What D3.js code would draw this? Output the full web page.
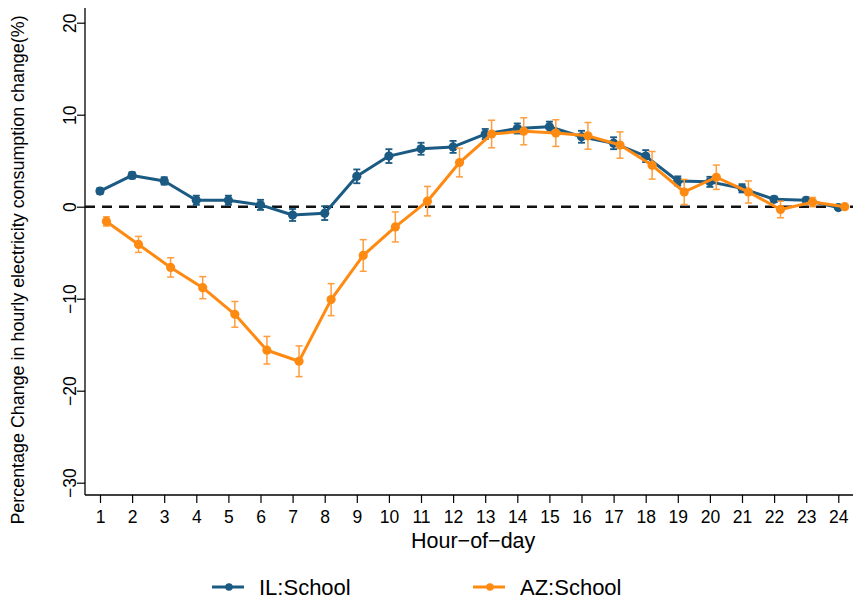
<!DOCTYPE html>
<html>
<head>
<meta charset="utf-8">
<script src="https://cdn.jsdelivr.net/npm/d3@7"></script>
<style>
  html, body { margin: 0; padding: 0; background: #fff; }
  svg { display: block; font-family: "Liberation Sans", Arial, Helvetica, sans-serif; }
</style>
</head>
<body>
<svg id="chart" width="854" height="599"></svg>
<script>
// ---- data ----
const hours = [1,2,3,4,5,6,7,8,9,10,11,12,13,14,15,16,17,18,19,20,21,22,23,24];
const ilValues = [1.7, 3.4, 2.8, 0.7, 0.7, 0.2, -0.9, -0.7, 3.3, 5.5, 6.3, 6.5, 7.9, 8.5, 8.7, 7.6, 6.9, 5.5, 2.8, 2.7, 2.0, 0.8, 0.7, -0.1];
const ilErrors = [0.3, 0.35, 0.4, 0.5, 0.5, 0.55, 0.65, 0.75, 0.75, 0.75, 0.65, 0.65, 0.55, 0.55, 0.55, 0.65, 0.65, 0.65, 0.5, 0.55, 0.45, 0.3, 0.3, 0.0];
const azValues = [-1.6, -4.1, -6.6, -8.8, -11.7, -15.6, -16.8, -10.1, -5.3, -2.2, 0.6, 4.8, 7.9, 8.2, 8.0, 7.7, 6.7, 4.5, 1.6, 3.2, 1.6, -0.3, 0.5, 0.0];
const azErrors = [0.5, 0.87, 1.05, 1.2, 1.4, 1.5, 1.67, 1.74, 1.72, 1.63, 1.6, 1.56, 1.5, 1.47, 1.45, 1.45, 1.43, 1.5, 1.36, 1.32, 1.2, 0.9, 0.5, 0.0];
const yTicks = [-30, -20, -10, 0, 10, 20];
const seriesNames = ["IL:School", "AZ:School"];
const xTitle = "Hour\u2212of\u2212day";
const yTitle = "Percentage Change in hourly electricity consumption change(%)";

// ---- layout ----
const svg = d3.select("#chart");
const blue = "#1b5a82", orange = "#ff8a12", orangeBar = "#ff9d3c";
const azOffset = 0.2;

const x = d3.scaleLinear().domain([1, 24]).range([100, 838.3]);
const y = d3.scaleLinear().domain([-30, 20]).range([482.7, 22.7]);
const axisLeftX = 85, axisBottomY = 495, plotRight = 853, plotTop = 8;

// axes
const yAxis = svg.append("g").attr("transform", `translate(${axisLeftX},0)`)
  .call(d3.axisLeft(y).tickValues(yTicks).tickSize(8).tickPadding(10));
yAxis.select(".domain").remove();
yAxis.append("line").attr("x1", 0).attr("x2", 0).attr("y1", plotTop).attr("y2", axisBottomY)
  .attr("stroke", "#000").attr("stroke-width", 1.3);
yAxis.selectAll(".tick line").attr("stroke", "#000").attr("stroke-width", 1.2);
yAxis.selectAll(".tick text")
  .attr("font-size", 17.5).attr("fill", "#000")
  .attr("text-anchor", "middle").attr("dy", null)
  .attr("x", null)
  .attr("transform", "translate(-15,0) rotate(-90)")
  .attr("dominant-baseline", "central");

const xAxis = svg.append("g").attr("transform", `translate(0,${axisBottomY})`)
  .call(d3.axisBottom(x).tickValues(hours).tickFormat(d3.format("d")).tickSize(8).tickPadding(8));
xAxis.select(".domain").remove();
xAxis.append("line").attr("x1", axisLeftX).attr("x2", plotRight).attr("y1", 0).attr("y2", 0)
  .attr("stroke", "#000").attr("stroke-width", 1.3);
xAxis.selectAll(".tick line").attr("stroke", "#000").attr("stroke-width", 1.2);
xAxis.selectAll(".tick text").attr("font-size", 17.5).attr("fill", "#000");

// titles
svg.append("text").attr("x", (x(1) + x(24)) / 2 + 4).attr("y", 548)
  .attr("text-anchor", "middle").attr("font-size", 21.5).attr("fill", "#000").text(xTitle);
svg.append("text").attr("transform", `translate(24,270) rotate(-90)`)
  .attr("text-anchor", "middle").attr("font-size", 17.9).attr("fill", "#000").text(yTitle);

// zero reference line
svg.append("line").attr("x1", axisLeftX).attr("x2", plotRight).attr("y1", y(0)).attr("y2", y(0))
  .attr("stroke", "#111").attr("stroke-width", 2.4).attr("stroke-dasharray", "10,7");

// series
function drawSeries(values, errors, offset, barColor, barWidth) {
  const pts = hours.map((h, i) => ({ h: h + offset, v: values[i], e: errors[i] }));
  const g = svg.append("g");
  const eb = g.append("g").attr("stroke", barColor).attr("stroke-width", barWidth).attr("fill", "none");
  pts.filter(d => d.e > 0).forEach(d => {
    const cx = x(d.h), y1 = y(d.v + d.e), y2 = y(d.v - d.e);
    eb.append("line").attr("x1", cx).attr("x2", cx).attr("y1", y1).attr("y2", y2);
    eb.append("line").attr("x1", cx - 3.5).attr("x2", cx + 3.5).attr("y1", y1).attr("y2", y1);
    eb.append("line").attr("x1", cx - 3.5).attr("x2", cx + 3.5).attr("y1", y2).attr("y2", y2);
  });
  return { g, pts };
}
function drawLine(s, color) {
  s.g.append("path").datum(s.pts)
    .attr("d", d3.line().x(d => x(d.h)).y(d => y(d.v)))
    .attr("fill", "none").attr("stroke", color).attr("stroke-width", 3).attr("stroke-linejoin", "round");
  s.g.selectAll("circle").data(s.pts).join("circle")
    .attr("cx", d => x(d.h)).attr("cy", d => y(d.v)).attr("r", 4.6).attr("fill", color);
}
const il = drawSeries(ilValues, ilErrors, 0, blue, 1.8);
drawLine(il, blue);
const az = drawSeries(azValues, azErrors, azOffset, orangeBar, 1.5);
drawLine(az, orange);

// legend
const legend = [
  { name: seriesNames[0], color: blue, x0: 212 },
  { name: seriesNames[1], color: orange, x0: 473 }
];
const lg = svg.append("g");
legend.forEach(d => {
  lg.append("line").attr("x1", d.x0).attr("x2", d.x0 + 32).attr("y1", 587).attr("y2", 587)
    .attr("stroke", d.color).attr("stroke-width", 3);
  lg.append("circle").attr("cx", d.x0 + 17).attr("cy", 587).attr("r", 3.8).attr("fill", d.color);
  lg.append("text").attr("x", d.x0 + 47).attr("y", 595).attr("font-size", 22).attr("fill", "#000").text(d.name);
});
</script>
</body>
</html>
